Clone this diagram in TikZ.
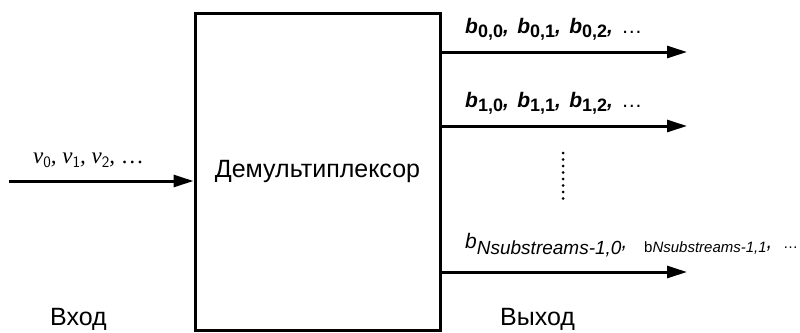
\documentclass[tikz,border=0pt]{standalone}
\usepackage{fontspec}
\setmainfont{Liberation Sans}
\newfontfamily\serifit{Liberation Serif}
\usetikzlibrary{arrows.meta,positioning}

\tikzstyle{block} = [draw,line width=3pt,minimum width=245pt,minimum height=317pt,inner sep=0pt,font=\fontsize{25}{30}\selectfont]
\tikzstyle{flow} = [draw,line width=3pt,-{Triangle[length=20pt,width=12pt]}]
\tikzstyle{stream} = [font=\fontsize{21}{24}\selectfont\bfseries\itshape,anchor=base west,inner sep=0pt]
\tikzstyle{caption} = [font=\fontsize{25}{30}\selectfont,anchor=base west,inner sep=0pt]
\newcommand{\sep}{\hspace{0.4em}}
\newcommand{\bsub}[1]{\raisebox{-4pt}{\fontsize{18}{20}\selectfont\upshape #1}}
\newcommand{\vsub}[1]{\raisebox{-4pt}{\fontsize{16}{18}\sffamily\upshape #1}}

\begin{document}
\begin{tikzpicture}[x=1pt,y=-1pt]
    \useasboundingbox (0,0) rectangle (800,332);
    % First we draw the block
    \node[block] (demux) at (317.5,171.5) {Демультиплексор};
    % Input stream
    \coordinate (src) at (9,181);
    \path[flow] (src) -- (src -| demux.west);
    \node[anchor=base west,inner sep=0pt,font=\fontsize{23}{26}\selectfont\serifit\itshape] (vlab) at (33,163)
        {v\vsub{0}, v\vsub{1}, v\vsub{2}, \upshape\dots};
    % Output streams
    \coordinate (o0) at (687,52);
    \coordinate (o1) at (687,126);
    \coordinate (oN) at (687,272);
    \foreach \name in {o0,o1,oN}
        \path[flow] (demux.east |- \name) -- (\name);
    \node[stream] (lab0) at (465,33) {b\bsub{0,0},\sep b\bsub{0,1},\sep b\bsub{0,2},\sep \upshape\mdseries\dots};
    \node[stream] (lab1) at (465,107) {b\bsub{1,0},\sep b\bsub{1,1},\sep b\bsub{1,2},\sep \upshape\mdseries\dots};
    \node[stream,font=\fontsize{21}{24}\selectfont\itshape] (labN) at (465,248)
        {b\raisebox{-6pt}{\fontsize{19}{22}\selectfont Nsubstreams-1,0},\hspace{0.8em}\raisebox{-4pt}{\fontsize{15}{18}\selectfont\upshape b\itshape Nsubstreams-1,1},\hspace{0.5em}{\fontsize{15}{18}\selectfont\upshape\dots}};
    % Skipped streams
    \coordinate (dtop) at (563,153);
    \coordinate (dbot) at (563,205);
    \path[draw,line width=3pt,line cap=round,dash pattern=on 0pt off 6.5pt] (dtop) -- (dbot);
    % Captions
    \node[caption] (inlab) at (50,325) {Вход};
    \node[caption] (outlab) at (500,325) {Выход};
\end{tikzpicture}
\end{document}
